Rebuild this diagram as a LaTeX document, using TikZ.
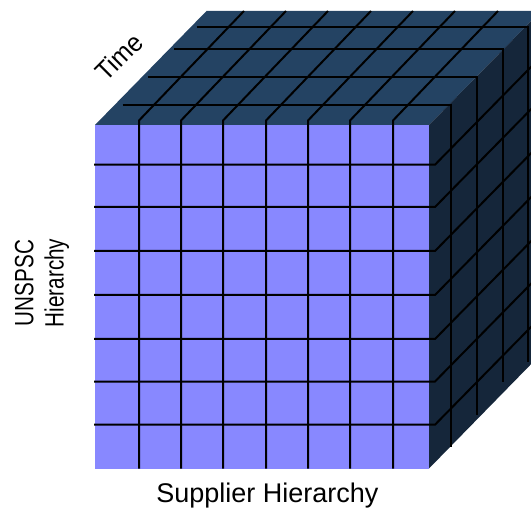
\documentclass[tikz,border=0pt]{standalone}
\usepackage{fontspec}
\setmainfont{Liberation Sans}
\definecolor{frontc}{RGB}{136,136,255}
\definecolor{topc}{RGB}{36,67,99}
\definecolor{sidec}{RGB}{21,38,58}
\begin{document}
\begin{tikzpicture}[x=1pt,y=-1pt,
  grid/.style={line width=2pt, black, line join=miter},
  lbl/.style={inner sep=0pt, font=\fontsize{27}{32}\selectfont},
  rlbl/.style={inner sep=0pt, font=\fontsize{26.5}{31}\selectfont}]
\useasboundingbox (0,0) rectangle (531,508);
\begin{scope}
\clip (0,0) rectangle (531,508);
% faces
\fill[topc] (95,125) -- (206.5,11) -- (541,11) -- (429,125) -- cycle;
\fill[sidec] (429,125) -- (541,11) -- (541,354) -- (429,468.5) -- cycle;
\fill[frontc] (95,125) rectangle (429,468.5);
% column slices
\foreach \x in {139,181,223,266,308,350,393}
  \draw[grid] (\x,468.5) -- (\x,120.5) -- ++(105,-109.5);
% row slices
\foreach \y in {164.7,207,251,295,339,381.5,424.7}
  \draw[grid] (94,\y) -- (435,\y) -- ++(112,-114);
% depth slices
\draw[grid] (122.7,105) -- (450.7,105) -- (450.7,446.5);
\draw[grid] (148.3,77) -- (476.7,77) -- (476.7,415);
\draw[grid] (174.3,49.3) -- (503,49.3) -- (503,381.7);
\draw[grid] (196.7,26.7) -- (527.5,26.7) -- (527.5,361.7);
\end{scope}
% labels
\node[rlbl, rotate=45] (time) at (119,56.7) {\scalebox{0.93}[1]{Time}};
\node[rlbl, rotate=90, anchor=base] (unspsc) at (33.5,283) {\scalebox{0.78}[1]{UNSPSC}};
\node[rlbl, rotate=90, anchor=base] (hier) at (63.5,283) {\scalebox{0.78}[1]{Hierarchy}};
\node[lbl, anchor=base] (supp) at (267.5,502) {Supplier Hierarchy};
\end{tikzpicture}
\end{document}
